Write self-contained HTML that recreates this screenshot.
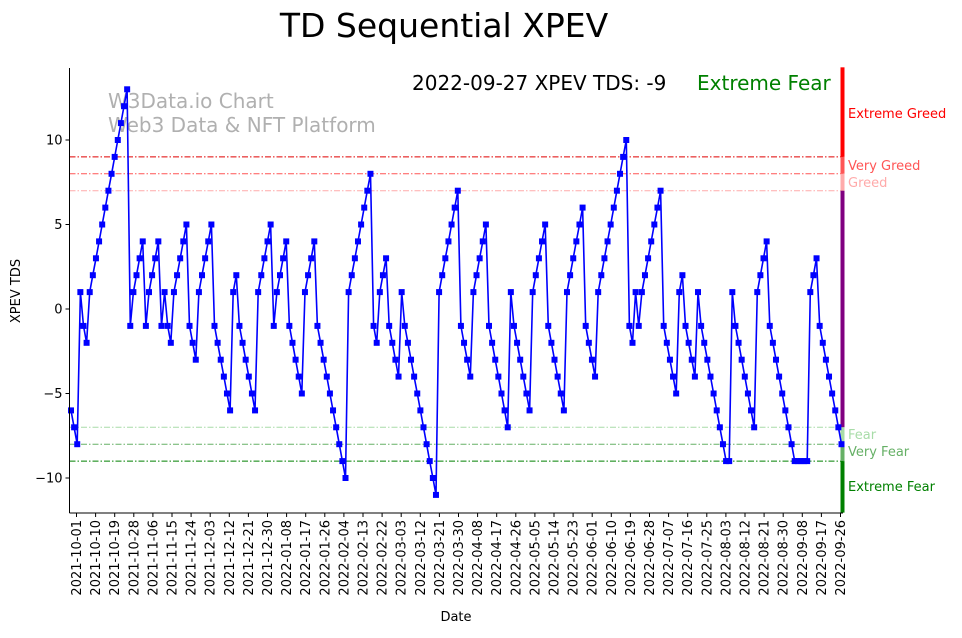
<!DOCTYPE html>
<html><head><meta charset="utf-8"><style>
body{margin:0;background:#fff;font-family:"Liberation Sans","DejaVu Sans",sans-serif}
svg text{font-family:"DejaVu Sans","Liberation Sans",sans-serif}
</style></head><body>
<svg id="chart" width="962" height="633" xmlns="http://www.w3.org/2000/svg">
<text x="444" y="37" font-size="33" text-anchor="middle">TD Sequential XPEV</text>
<text x="108" y="108" font-size="20" fill="#b0b0b0">W3Data.io Chart</text>
<text x="108" y="132" font-size="20" fill="#b0b0b0">Web3 Data &amp; NFT Platform</text>
<text x="412" y="90" font-size="20">2022-09-27 XPEV TDS: -9</text>
<text x="697" y="90" font-size="20" fill="green">Extreme Fear</text>
<g id="grid"></g><g id="series"></g><g id="axes"></g>
<text transform="translate(20,291) rotate(-90)" font-size="13" text-anchor="middle">XPEV TDS</text>
<text x="456" y="621" font-size="13" text-anchor="middle">Date</text>
</svg>
<script>
const tickLabels=["2021-10-01","2021-10-10","2021-10-19","2021-10-28","2021-11-06","2021-11-15","2021-11-24","2021-12-03","2021-12-12","2021-12-21","2021-12-30","2022-01-08","2022-01-17","2022-01-26","2022-02-04","2022-02-13","2022-02-22","2022-03-03","2022-03-12","2022-03-21","2022-03-30","2022-04-08","2022-04-17","2022-04-26","2022-05-05","2022-05-14","2022-05-23","2022-06-01","2022-06-10","2022-06-19","2022-06-28","2022-07-07","2022-07-16","2022-07-25","2022-08-03","2022-08-12","2022-08-21","2022-08-30","2022-09-08","2022-09-17","2022-09-26"];
const yTicks=[-10,-5,0,5,10];
const tdsValues=[-6,-7,-8,1,-1,-2,1,2,3,4,5,6,7,8,9,10,11,12,13,
-1,1,2,3,4,-1,1,2,3,4,-1,1,-1,-2,1,2,3,4,5,-1,-2,-3,1,2,3,4,5,-1,-2,-3,-4,-5,-6,1,2,-1,-2,-3,-4,-5,-6,1,2,3,4,5,-1,1,2,3,4,-1,-2,-3,-4,-5,1,2,3,4,
-1,-2,-3,-4,-5,-6,-7,-8,-9,-10,1,2,3,4,5,6,7,8,-1,-2,1,2,3,-1,-2,-3,-4,1,-1,-2,-3,-4,-5,-6,-7,-8,-9,-10,-11,1,2,3,4,5,6,7,-1,-2,-3,-4,1,2,3,4,5,
-1,-2,-3,-4,-5,-6,-7,1,-1,-2,-3,-4,-5,-6,1,2,3,4,5,-1,-2,-3,-4,-5,-6,1,2,3,4,5,6,-1,-2,-3,-4,1,2,3,4,5,6,7,8,9,10,-1,-2,1,-1,1,2,3,4,5,6,7,
-1,-2,-3,-4,-5,1,2,-1,-2,-3,-4,1,-1,-2,-3,-4,-5,-6,-7,-8,-9,-9,1,-1,-2,-3,-4,-5,-6,-7,1,2,3,4,-1,-2,-3,-4,-5,-6,-7,-8,-9,-9,-9,-9,-9,1,2,3,-1,-2,-3,-4,-5,-6,-7,-8];
const levelValues=[9,8,7,-7,-8,-9];
const levelColors=["#e00000","#ff5555","#ffaaaa","#a8dca8","#66b066","#008000"];
const NS="http://www.w3.org/2000/svg";
const X0=69.5,X1=843,Y0=68,Y1=513;
const d0=Date.UTC(2021,9,1);
const dayPx=2.1222,xTick0=76.5;
function xDate(s){const p=s.split("-");return xTick0+(Date.UTC(+p[0],p[1]-1,+p[2])-d0)/864e5*dayPx;}
function xIdx(i){return 71+i*(841.5-71)/(tdsValues.length-1);}
function y(v){return 309-v*16.9;}
function mk(tag,attrs,parent){const e=document.createElementNS(NS,tag);for(const k in attrs)e.setAttribute(k,attrs[k]);parent.appendChild(e);return e;}
const grid=document.getElementById("grid"),ser=document.getElementById("series"),ax=document.getElementById("axes");
levelValues.forEach((v,i)=>{const l=mk("line",{x1:X0,x2:X1,y1:y(v),y2:y(v),stroke:levelColors[i],"stroke-width":1,"stroke-dasharray":"6,2,1.5,2"},grid);

});
// right sentiment bar
const bands=[[14.3,9,"red"],[9,8,"#ff5555"],[8,7,"#ffaaaa"],[7,-7,"purple"],[-7,-8,"#a8dca8"],[-8,-9,"#66b066"],[-9,-12.05,"green"]];
bands.forEach(b=>{const r=mk("rect",{x:840.5,y:y(b[0]),width:4,height:y(b[1])-y(b[0]),fill:b[2]},grid);

});
const bandLabels=[["Extreme Greed",118,"red"],["Very Greed",170,"#ff5555"],["Greed",187,"#ffaaaa"],["Fear",439,"#a8dca8"],["Very Fear",456,"#66b066"],["Extreme Fear",491,"green"]];
bandLabels.forEach(b=>{const t=mk("text",{x:848,y:b[1],"font-size":13,fill:b[2]},grid);t.textContent=b[0];

});
let pts=tdsValues.map((v,i)=>xIdx(i).toFixed(1)+","+y(v).toFixed(1)).join(" ");
const pl=mk("polyline",{points:pts,fill:"none",stroke:"blue","stroke-width":1.6},ser);


tdsValues.forEach((v,i)=>{const r=mk("rect",{x:xIdx(i)-3,y:y(v)-3,width:6,height:6,fill:"blue"},ser);

});
const sp1=mk("line",{x1:X0,x2:X0,y1:Y0,y2:Y1,stroke:"#000","stroke-width":1},ax);


const sp2=mk("line",{x1:X0,x2:X1,y1:Y1,y2:Y1,stroke:"#000","stroke-width":1},ax);


yTicks.forEach(v=>{mk("line",{x1:X0-4,x2:X0,y1:y(v),y2:y(v),stroke:"#000"},ax);
const t=mk("text",{x:X0-7,y:y(v)+4.5,"font-size":13,"text-anchor":"end"},ax);t.textContent=v<0?"\u2212"+(-v):String(v);

});
tickLabels.forEach(s=>{const x=xDate(s);mk("line",{x1:x,x2:x,y1:Y1,y2:Y1+4,stroke:"#000"},ax);
const t=mk("text",{transform:`translate(${x+4.5},${520}) rotate(-90)`,"font-size":13,"text-anchor":"end"},ax);t.textContent=s;

});
</script>
</body></html>
